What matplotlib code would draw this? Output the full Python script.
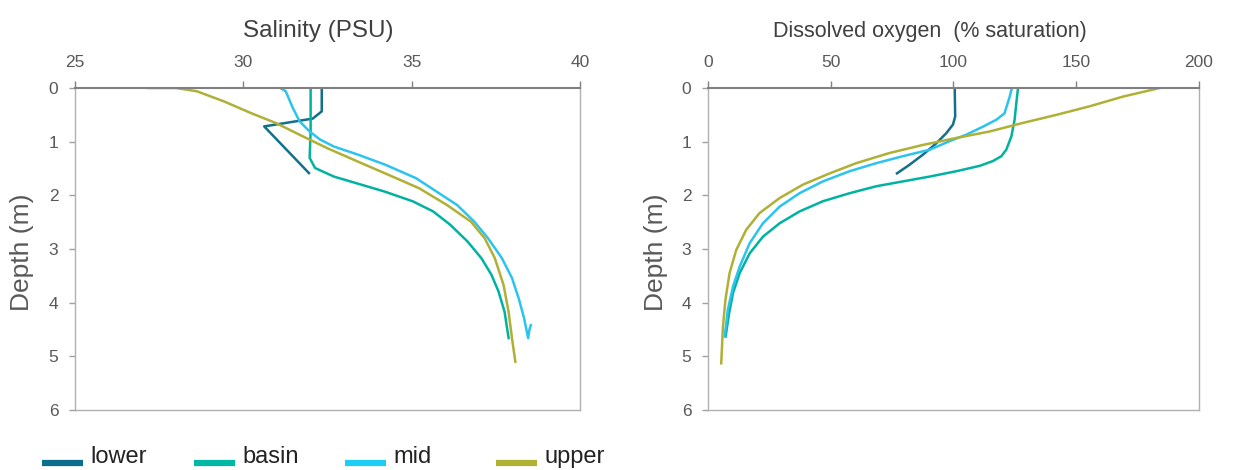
import matplotlib
matplotlib.use('Agg')
import matplotlib.pyplot as plt
import numpy as np

plt.rcParams['font.family'] = ['Liberation Sans', 'DejaVu Sans']

sites = ['lower', 'basin', 'mid', 'upper']
colors = {'lower': '#12708c', 'basin': '#00b3a0', 'mid': '#2cc4ee', 'upper': '#afb035'}
legend_colors = {'lower': '#0a6e8c', 'basin': '#00b8a4', 'mid': '#1ecdf5', 'upper': '#b0b033'}

# salinity profiles (PSU, depth m)
sal_lower = [32.33, 32.33, 32.06, 30.62, 31.95]
sal_lower_d = [0.0, 0.435, 0.57, 0.715, 1.585]

sal_basin = [32.0, 32.0, 31.97, 32.13, 32.69, 33.5, 34.2, 35.03, 35.64, 36.15, 36.66, 37.07,
             37.37, 37.58, 37.76, 37.88]
sal_basin_d = [0.0, 0.8, 1.3, 1.49, 1.65, 1.80, 1.93, 2.11, 2.30, 2.55, 2.86, 3.17,
               3.48, 3.79, 4.17, 4.66]

sal_mid = [31.1, 31.26, 31.47, 31.67, 31.97, 32.28, 32.69, 33.4, 34.22, 35.13, 35.74, 36.35,
           36.86, 37.27, 37.68, 37.98, 38.18, 38.34, 38.46, 38.5, 38.54]
sal_mid_d = [0.0, 0.06, 0.37, 0.62, 0.81, 0.96, 1.09, 1.24, 1.43, 1.68, 1.93, 2.18,
             2.49, 2.80, 3.17, 3.54, 3.92, 4.29, 4.66, 4.5, 4.42]

sal_upper = [27.19, 28.0, 28.62, 29.43, 30.24, 30.96, 31.67, 32.49, 33.4, 34.32, 35.23, 36.05,
             36.76, 37.17, 37.47, 37.73, 37.88, 37.98, 38.08]
sal_upper_d = [0.0, 0.0, 0.06, 0.25, 0.47, 0.65, 0.87, 1.12, 1.37, 1.62, 1.87, 2.18,
               2.49, 2.80, 3.17, 3.67, 4.17, 4.66, 5.10]

# dissolved oxygen profiles (% saturation, depth m)
ox_lower = [100.5, 100.7, 99.8, 97.1, 93.0, 87.6, 82.1, 77.0]
ox_lower_d = [0.0, 0.53, 0.68, 0.84, 1.03, 1.24, 1.43, 1.59]

ox_basin = [126.3, 125.6, 124.9, 123.6, 121.5, 119.5, 116.1, 110.7, 101.2, 90.3, 79.4, 68.6,
            57.7, 46.8, 37.3, 29.2, 22.4, 17.0, 12.9, 10.2, 8.6, 7.2]
ox_basin_d = [0.0, 0.28, 0.59, 0.90, 1.15, 1.27, 1.36, 1.45, 1.55, 1.65, 1.74, 1.83,
              1.96, 2.11, 2.30, 2.52, 2.77, 3.08, 3.45, 3.82, 4.20, 4.63]

ox_mid = [123.8, 122.9, 120.8, 117.5, 112.0, 105.2, 98.4, 90.3, 79.4, 68.6, 57.7, 46.8,
          37.3, 29.2, 22.4, 17.0, 12.9, 10.2, 8.1, 6.8]
ox_mid_d = [0.0, 0.16, 0.47, 0.59, 0.72, 0.87, 0.99, 1.15, 1.27, 1.40, 1.55, 1.74,
            1.96, 2.21, 2.52, 2.89, 3.33, 3.70, 4.13, 4.63]

ox_upper = [184.0, 169.0, 155.5, 141.9, 128.3, 114.7, 101.2, 87.6, 74.0, 60.4, 49.6, 38.7,
            29.2, 21.0, 15.6, 11.5, 8.8, 7.1, 6.1, 5.4]
ox_upper_d = [0.0, 0.16, 0.34, 0.50, 0.65, 0.81, 0.93, 1.06, 1.21, 1.40, 1.59, 1.80,
              2.05, 2.33, 2.64, 3.02, 3.45, 3.95, 4.45, 5.13]

sal = {'lower': (sal_lower, sal_lower_d), 'basin': (sal_basin, sal_basin_d),
       'mid': (sal_mid, sal_mid_d), 'upper': (sal_upper, sal_upper_d)}
ox = {'lower': (ox_lower, ox_lower_d), 'basin': (ox_basin, ox_basin_d),
      'mid': (ox_mid, ox_mid_d), 'upper': (ox_upper, ox_upper_d)}

grey = '#595959'

fig = plt.figure(figsize=(12.39, 4.70), dpi=100)
ax1 = fig.add_axes([0.0605, 0.1277, 0.4076, 0.685])
ax2 = fig.add_axes([0.5714, 0.1277, 0.3963, 0.685])


def style(ax, xlim, xticks, label, size, label_x):
    ax.set_xlim(*xlim)
    ax.set_ylim(6, 0)
    ax.set_xticks(xticks)
    ax.set_yticks(range(7))
    ax.xaxis.tick_top()
    ax.xaxis.set_label_position('top')
    ax.set_xlabel(label, fontsize=size, color='#404040')
    ax.xaxis.set_label_coords(label_x, 1.16)
    ax.set_ylabel('Depth (m)', fontsize=19, color=grey)
    ax.yaxis.set_label_coords(-0.082, 0.49)
    ax.tick_params(axis='x', direction='out', length=5, width=1, colors='#808080',
                   labelcolor=grey, labelsize=12.5, pad=8)
    ax.tick_params(axis='y', direction='out', length=4, width=1, colors='#a0a0a0',
                   labelcolor=grey, labelsize=12.5, pad=8)
    for s in ax.spines.values():
        s.set_color('#b0b0b0')
        s.set_linewidth(1)
    ax.spines['top'].set_color('#808080')
    ax.spines['top'].set_linewidth(1.5)


for name in sites:
    x, d = sal[name]
    ax1.plot(x, d, color=colors[name], lw=1.8)
    x, d = ox[name]
    ax2.plot(x, d, color=colors[name], lw=1.8)

style(ax1, (25, 40), [25, 30, 35, 40], 'Salinity (PSU)', 17.5, 0.481)
style(ax2, (0, 200), [0, 50, 100, 150, 200], 'Dissolved oxygen  (% saturation)', 15.5, 0.452)

# legend entries at fixed spacing along the bottom
legend_x = [0.0339, 0.1566, 0.2785, 0.4003]
for name, lx in zip(sites, legend_x):
    h = plt.Line2D([], [], color=legend_colors[name], lw=4.5, solid_capstyle='butt')
    leg = fig.legend([h], [name], loc='lower left', bbox_to_anchor=(lx, 0.004),
                     frameon=False, fontsize=17, handlelength=1.74, handletextpad=0.3,
                     borderpad=0, borderaxespad=0)
    for line in leg.get_lines():
        line.set_ydata(np.asarray(line.get_ydata()) - 6)
    for t in leg.get_texts():
        t.set_color('#222222')

fig.savefig('out.png', dpi=100)
